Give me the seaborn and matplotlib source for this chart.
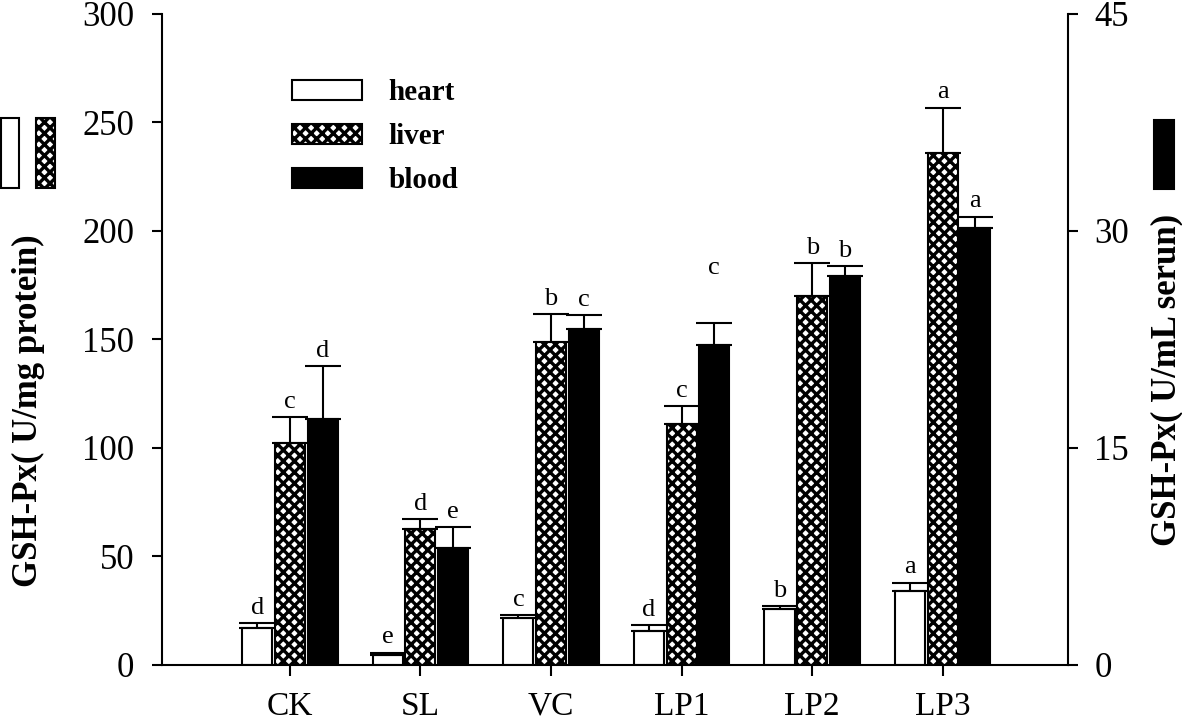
import matplotlib
matplotlib.use('Agg')
import matplotlib.pyplot as plt
from matplotlib.container import BarContainer
from matplotlib.patches import Patch, Rectangle
import pandas as pd
import seaborn as sns

# values
groups = ['CK', 'SL', 'VC', 'LP1', 'LP2', 'LP3']
tissues = ['heart', 'liver', 'blood']

heart = [16.9, 4.6, 21.8, 15.7, 26.0, 34.3]          # U/mg protein (left axis)
heart_err = [2.3, 1.1, 1.2, 2.7, 1.2, 3.7]
liver = [102.2, 62.5, 148.7, 111.1, 170.2, 236.1]    # U/mg protein (left axis)
liver_err = [12.2, 4.6, 12.9, 8.3, 15.0, 20.8]
blood = [17.0, 8.1, 23.2, 22.1, 26.9, 30.2]          # U/mL serum (right axis)
blood_err = [3.65, 1.43, 1.0, 1.53, 0.66, 0.8]

heart_sig = ['d', 'e', 'c', 'd', 'b', 'a']
liver_sig = ['c', 'd', 'b', 'c', 'b', 'a']
blood_sig = ['d', 'e', 'c', 'c', 'b', 'a']

colors = {'heart': 'white', 'liver': 'white', 'blood': 'black'}
HATCH = 'xxx'
FONT = 'Liberation Serif'

sns.set_style('ticks')
plt.rcParams['font.family'] = [FONT, 'DejaVu Serif']
plt.rcParams.update({'hatch.linewidth': 2.4, 'hatch.color': 'black', 'axes.linewidth': 1.5,
                     'text.color': 'black', 'axes.labelcolor': 'black', 'axes.edgecolor': 'black',
                     'xtick.color': 'black', 'ytick.color': 'black'})

organ_df = pd.DataFrame({
    'group': groups * 2,
    'tissue': ['heart'] * len(groups) + ['liver'] * len(groups),
    'value': heart + liver,
    'err': heart_err + liver_err,
    'sig': heart_sig + liver_sig,
})
blood_df = pd.DataFrame({
    'group': groups, 'tissue': ['blood'] * len(groups),
    'value': blood, 'err': blood_err, 'sig': blood_sig,
})

fig = plt.figure(figsize=(11.82, 7.25), dpi=100)
ax = fig.add_axes([0.137, 0.0828, 0.7666, 0.8979])
ax2 = ax.twinx()

bar_kw = dict(x='group', y='value', hue='tissue', order=groups, hue_order=tissues,
              palette=colors, width=0.75, gap=0.08, dodge=True, edgecolor='black',
              linewidth=1.5, errorbar=None, legend=False, saturation=1)
sns.barplot(data=organ_df, ax=ax, **bar_kw)
sns.barplot(data=blood_df, ax=ax2, **bar_kw)

# extra lift (points) for letters that sit higher than the rest
lift = {('blood', 'LP1'): 29}


def decorate(axis, df):
    bars = [b for c in axis.containers if isinstance(c, BarContainer) for b in c]
    for bar in bars:
        cx = bar.get_x() + bar.get_width() / 2
        h = bar.get_height()
        gi = int(round(cx))
        sub = df[(df['group'] == groups[gi]) & (abs(df['value'] - h) < 1e-6)]
        if sub.empty:
            continue
        row = sub.iloc[0]
        if row['tissue'] == 'liver':
            bar.set_hatch(HATCH)
        axis.errorbar(cx, h, yerr=[[0], [row['err']]], fmt='none', ecolor='black',
                      elinewidth=1.5, capsize=13, capthick=1.5, zorder=5)
        axis.annotate(row['sig'], xy=(cx, h + row['err']),
                      xytext=(0, 3 + lift.get((row['tissue'], row['group']), 0)),
                      textcoords='offset points', ha='center', va='bottom', fontsize=19)


decorate(ax, organ_df)
decorate(ax2, blood_df)

ax.set_xlim(-0.98, 5.96)
ax.set_ylim(0, 300)
ax.set_yticks(range(0, 301, 50))
ax2.set_ylim(0, 45)
ax2.set_yticks([0, 15, 30, 45])

ax.set_xlabel('')
ax2.set_xlabel('')
ax.spines['top'].set_visible(False)
ax.spines['right'].set_visible(False)
ax2.spines['top'].set_visible(False)
ax2.spines['left'].set_visible(False)
ax2.spines['bottom'].set_visible(False)

ax.tick_params(axis='x', direction='out', length=8, width=1.5, labelsize=24, pad=11)
ax.tick_params(axis='y', direction='out', length=7, width=1.5, labelsize=25, pad=13)
ax2.tick_params(axis='y', direction='out', length=7, width=1.5, labelsize=25, pad=12)

ax.set_ylabel('GSH-Px( U/mg protein)', fontsize=25, fontweight='bold')
ax.yaxis.set_label_coords(-0.129, 0.39)
ax2.set_ylabel('GSH-Px( U/mL serun)', fontsize=25, fontweight='bold')
ax2.yaxis.set_label_coords(1.0905, 0.438)

handles = [Patch(facecolor='white', edgecolor='black', lw=1.5),
           Patch(facecolor='white', edgecolor='black', hatch=HATCH, lw=1.5),
           Patch(facecolor='black', edgecolor='black', lw=1.5)]
ax.legend(handles, tissues, loc='upper left', bbox_to_anchor=(0.1435, 0.9), frameon=False,
          prop={'family': FONT, 'weight': 'bold', 'size': 21}, handlelength=2.4,
          handleheight=0.68, handletextpad=0.9, labelspacing=0.58, borderpad=0, borderaxespad=0)

# small key patches beside the axis titles
fig.add_artist(Rectangle((0.001, 0.7407), 0.0152, 0.0966, transform=fig.transFigure,
                         facecolor='white', edgecolor='black', lw=1.5))
fig.add_artist(Rectangle((0.0305, 0.7407), 0.0161, 0.0966, transform=fig.transFigure,
                         facecolor='white', edgecolor='black', hatch=HATCH, lw=1.5))
fig.add_artist(Rectangle((0.9763, 0.7393), 0.0169, 0.0952, transform=fig.transFigure,
                         facecolor='black', edgecolor='black', lw=1.5))

fig.savefig('out.png', dpi=100)
